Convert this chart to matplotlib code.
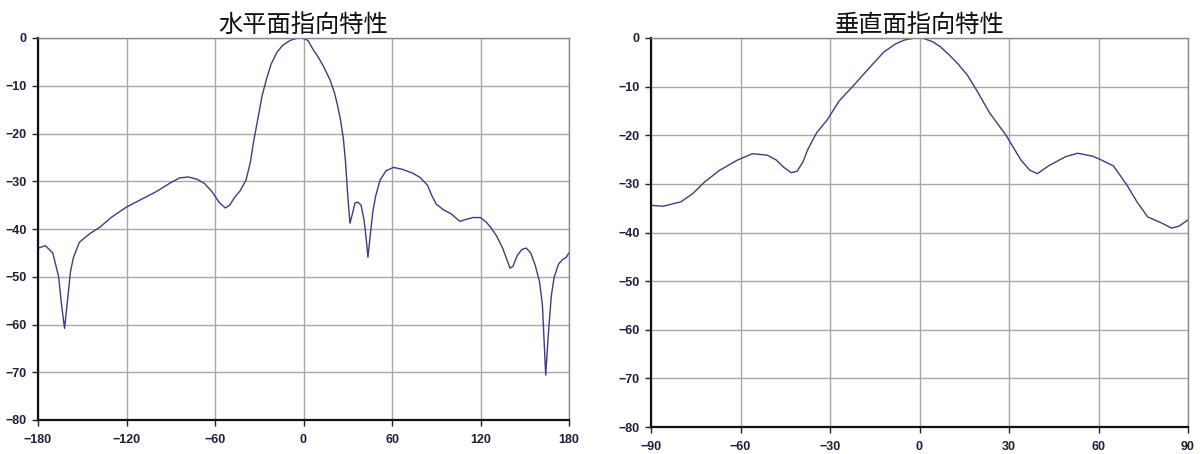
import matplotlib
matplotlib.use("Agg")
import matplotlib.pyplot as plt

# Horizontal pattern (水平面指向特性)
h_deg = [-180, -175, -170, -166, -164, -162, -160, -158, -156, -152, -145, -138, -130, -120,
         -110, -100, -90, -84, -78, -72, -67, -62, -57, -53, -50, -47, -43, -39, -36, -34,
         -31, -28, -25, -22, -18, -14, -9, -5, -1, 3, 6.5, 10, 14, 18, 21, 23, 25, 27, 28.5,
         30, 31.5, 33, 35, 37, 39, 41, 42.5, 43.7, 45, 47, 49, 52, 56, 61, 67, 74, 79, 84,
         87, 90, 95, 100, 106, 110, 115, 120, 124, 127, 131, 135, 138, 140, 142, 145, 148,
         151, 154, 157, 160, 162, 164.2, 166, 168, 170, 173, 176, 178, 180]
h_db = [-44, -43.5, -45, -50, -56, -60.8, -55, -49, -46, -42.8, -41, -39.6, -37.5, -35.4,
        -33.8, -32.2, -30.3, -29.3, -29.1, -29.6, -30.5, -32.2, -34.5, -35.6, -35, -33.5, -32,
        -29.8, -26, -22, -17, -12, -8.5, -5.5, -3, -1.5, -0.5, -0.1, 0, -0.5, -2.4, -4, -6.2,
        -8.8, -11.5, -14, -17, -21, -26, -33, -38.8, -37, -34.5, -34.4, -35, -38, -42, -45.9,
        -42, -36.4, -33, -29.7, -27.8, -27.1, -27.5, -28.3, -29.2, -30.8, -33, -34.8, -36,
        -36.8, -38.4, -38, -37.6, -37.6, -38.6, -39.7, -41.5, -44, -46.5, -48.2, -47.8, -45.5,
        -44.3, -44, -45, -47.5, -51, -56, -70.6, -62, -54, -50, -47.3, -46.3, -46, -45]

# Vertical pattern (垂直面指向特性)
v_deg = [-90, -86, -80, -76, -72, -67, -61, -56, -51, -48, -45.5, -43, -41, -39, -37.5,
         -34.5, -31, -27, -22, -17.5, -12, -8, -5, -2, 1, 4.5, 7, 10, 13, 16, 19.5, 23.5,
         29, 34, 37, 39.5, 43.5, 49, 53, 58, 61, 65, 69.5, 73, 76.5, 81, 84.5, 87, 90]
v_db = [-34.4, -34.6, -33.7, -32, -29.6, -27.2, -25.1, -23.8, -24.1, -25.1, -26.6, -27.7,
        -27.4, -25.4, -23, -19.5, -16.9, -13, -9.7, -6.6, -2.9, -1.2, -0.4, -0.05, 0, -0.8,
        -1.8, -3.5, -5.4, -7.6, -11.1, -15.4, -20, -25.1, -27.2, -27.9, -26.2, -24.4, -23.7,
        -24.3, -25.1, -26.3, -30.2, -33.8, -36.8, -38, -39.1, -38.7, -37.4]

h_ticks = [-180, -120, -60, 0, 60, 120, 180]
v_ticks = [-90, -60, -30, 0, 30, 60, 90]
y_ticks = list(range(-80, 1, 10))
titles = ["水平面指向特性", "垂直面指向特性"]

W, H = 1200, 454
fig = plt.figure(figsize=(W / 100, H / 100), dpi=100)
ax1 = fig.add_axes([38 / W, 1 - 420 / H, 531 / W, 382 / H])
ax2 = fig.add_axes([651 / W, 1 - 427 / H, 537 / W, 389 / H])

line_color = "#3c3c8c"
tick_font = dict(fontfamily="Liberation Sans", fontsize=9, fontweight="bold", color="#1f1f3a")
for ax, xs, ys, xt, title in [(ax1, h_deg, h_db, h_ticks, titles[0]),
                              (ax2, v_deg, v_db, v_ticks, titles[1])]:
    ax.plot(xs, ys, color=line_color, lw=1.0)
    ax.set_xlim(xt[0], xt[-1])
    ax.set_ylim(-80, 0)
    ax.set_xticks(xt)
    ax.set_yticks(y_ticks)
    ax.set_xticklabels([str(t).replace("-", "−") for t in xt], **tick_font)
    ax.set_yticklabels([str(t).replace("-", "−") for t in y_ticks], **tick_font)
    ax.grid(True, color="#a8a8a8", lw=1.0)
    ax.set_axisbelow(True)
    ax.tick_params(axis="both", length=4, width=1, color="#222222", direction="out")
    ax.tick_params(axis="x", pad=6)
    ax.tick_params(axis="y", pad=4)
    for s in ["left", "bottom"]:
        ax.spines[s].set_color("#111111")
        ax.spines[s].set_linewidth(1.6)
    for s in ["top", "right"]:
        ax.spines[s].set_color("#8a8a8a")
        ax.spines[s].set_linewidth(1.0)
    ax.set_title(title, fontfamily=["Noto Sans CJK JP", "DejaVu Sans"], fontsize=17.5,
                 color="#111111", pad=3)

fig.savefig("out.png", dpi=100)
